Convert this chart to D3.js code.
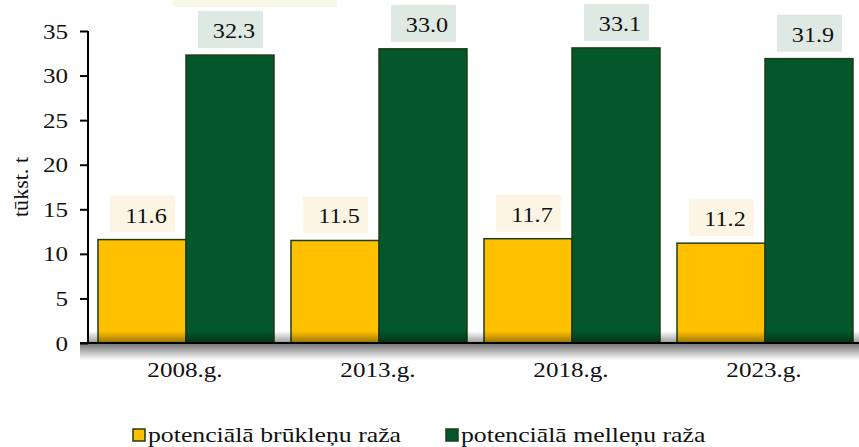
<meta charset="utf-8">
<body style="margin:0">
<script src="https://d3js.org/d3.v7.min.js"></script>
<script>

    var categories = ["2008.g.", "2013.g.", "2018.g.", "2023.g."];
    var seriesNames = ["potenciālā brūkleņu raža", "potenciālā melleņu raža"];
    var bruklenes = [11.6, 11.5, 11.7, 11.2];
    var mellenes = [32.3, 33.0, 33.1, 31.9];
    var yTicks = [0, 5, 10, 15, 20, 25, 30, 35];

    var colors = ["#FFC000", "#03572A"];
    var labelFill = ["#FDF5E3", "#DFE9E4"];

    var W = 859, H = 447;
    var plotLeft = 88, plotBottom = 343, plotTop = 31;
    var serif = "'Liberation Serif'";

    // the source text is a bit wider than Liberation Serif
    function stretch(sel, k) {
        sel.each(function () {
            var len = this.getComputedTextLength();
            d3.select(this).attr("textLength", len * k).attr("lengthAdjust", "spacingAndGlyphs");
        });
    }

    var svg = d3.select("body").append("svg")
        .attr("width", W)
        .attr("height", H);

    var defs = svg.append("defs");
    var g1 = defs.append("linearGradient").attr("id", "inShadow")
        .attr("x1", 0).attr("y1", 0).attr("x2", 0).attr("y2", 1);
    g1.append("stop").attr("offset", "0%").attr("stop-color", "#000").attr("stop-opacity", 0);
    g1.append("stop").attr("offset", "100%").attr("stop-color", "#000").attr("stop-opacity", 0.4);
    var g2 = defs.append("linearGradient").attr("id", "outShadow")
        .attr("x1", 0).attr("y1", 0).attr("x2", 0).attr("y2", 1);
    g2.append("stop").attr("offset", "0%").attr("stop-color", "#777").attr("stop-opacity", 1);
    g2.append("stop").attr("offset", "100%").attr("stop-color", "#fff").attr("stop-opacity", 1);

    // cut-off box at the very top
    svg.append("rect")
        .attr("x", 173).attr("y", 0).attr("width", 164).attr("height", 7)
        .attr("fill", "#F8F8E8");

    var y = d3.scaleLinear().domain([0, 35]).range([plotBottom, plotTop]);

    var x0 = d3.scaleBand()
        .domain(categories)
        .range([plotLeft, plotLeft + 4 * 193 + 3])
        .paddingInner(17 / 193)
        .paddingOuter(10 / 193);

    var x1 = d3.scaleBand()
        .domain([0, 1])
        .range([0, x0.bandwidth()]);

    var data = categories.map(function (c, i) {
        return { cat: c, values: [bruklenes[i], mellenes[i]] };
    });

    var groups = svg.selectAll(".grp")
        .data(data)
        .enter().append("g")
        .attr("class", "grp")
        .attr("transform", function (d) { return "translate(" + x0(d.cat) + ",0)"; });

    var bars = groups.selectAll(".bar")
        .data(function (d) { return d.values.map(function (v, k) { return { k: k, v: v }; }); })
        .enter();

    bars.append("rect")
        .attr("x", function (d) { return x1(d.k); })
        .attr("y", function (d) { return y(d.v); })
        .attr("width", x1.bandwidth())
        .attr("height", function (d) { return plotBottom - y(d.v); })
        .attr("fill", function (d) { return colors[d.k]; })
        .attr("stroke", "#1F3D12")
        .attr("stroke-width", 1.5);

    // value labels with boxes
    var lbl = bars.append("g")
        .attr("transform", function (d) {
            return "translate(" + (x1(d.k) + x1.bandwidth() / 2) + "," + (y(d.v) - 7) + ")";
        });
    lbl.append("rect")
        .attr("x", -32).attr("y", -37).attr("width", 65).attr("height", 37)
        .attr("fill", function (d) { return labelFill[d.k]; });
    lbl.append("text")
        .attr("x", 4).attr("y", -10)
        .attr("text-anchor", "middle")
        .attr("fill", "#111")
        .style("font-family", serif)
        .style("font-size", "22px")
        .text(function (d) { return d.v.toFixed(1); })
        .call(stretch, 1.1);

    // shadow at plot bottom
    svg.append("rect")
        .attr("x", plotLeft + 1).attr("y", plotBottom - 12).attr("width", W - plotLeft).attr("height", 12)
        .attr("fill", "url(#inShadow)");
    svg.append("rect")
        .attr("x", 80).attr("y", plotBottom + 1).attr("width", W - 80).attr("height", 16)
        .attr("fill", "url(#outShadow)");

    // y axis
    var yAxis = svg.append("g")
        .attr("transform", "translate(" + plotLeft + ",0)")
        .call(d3.axisLeft(y).tickValues(yTicks).tickSize(8).tickPadding(12));
    yAxis.select(".domain").remove();
    yAxis.selectAll("line").attr("stroke", "#000").attr("stroke-width", 2);
    yAxis.selectAll("text")
        .attr("fill", "#111")
        .style("font-family", serif)
        .style("font-size", "22px")
        .call(stretch, 1.14);
    svg.append("line")
        .attr("x1", plotLeft).attr("x2", plotLeft)
        .attr("y1", plotTop).attr("y2", plotBottom + 1)
        .attr("stroke", "#000").attr("stroke-width", 2);

    // x axis line
    svg.append("line")
        .attr("x1", 80).attr("x2", W)
        .attr("y1", plotBottom).attr("y2", plotBottom)
        .attr("stroke", "#000").attr("stroke-width", 2);

    svg.selectAll(".cat")
        .data(categories)
        .enter().append("text")
        .attr("class", "cat")
        .attr("x", function (d) { return x0(d) + x0.bandwidth() / 2 - 1; })
        .attr("y", 377)
        .attr("text-anchor", "middle")
        .attr("fill", "#111")
        .style("font-family", serif)
        .style("font-size", "22px")
        .text(function (d) { return d; })
        .call(stretch, 1.14);

    // y title
    svg.append("text")
        .attr("transform", "translate(28,187) rotate(-90)")
        .attr("text-anchor", "middle")
        .attr("fill", "#111")
        .style("font-family", serif)
        .style("font-size", "21px")
        .text("tūkst. t")
        .call(stretch, 1.05);

    // legend
    var legX = [132, 445];
    var leg = svg.selectAll(".leg")
        .data(seriesNames)
        .enter().append("g")
        .attr("transform", function (d, i) { return "translate(" + legX[i] + ",428)"; });
    leg.append("rect")
        .attr("x", 1).attr("y", 1).attr("width", 12).attr("height", 12)
        .attr("fill", function (d, i) { return colors[i]; })
        .attr("stroke", "#1F3D12").attr("stroke-width", 1.5);
    leg.append("text")
        .attr("x", 16).attr("y", 14)
        .attr("fill", "#111")
        .style("font-family", serif)
        .style("font-size", "22px")
        .text(function (d) { return d; })
        .call(stretch, 1.17);

</script>
</body>
